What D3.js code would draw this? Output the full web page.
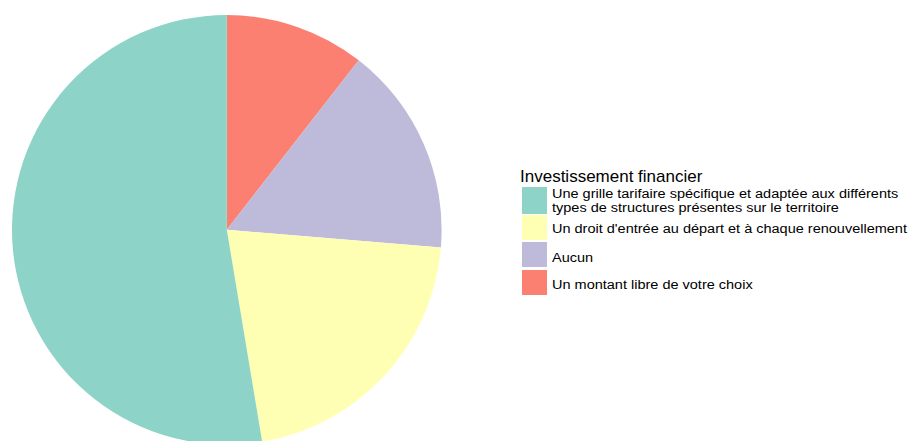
<!DOCTYPE html>
<html>
<head>
<meta charset="utf-8">
<script src="https://cdn.jsdelivr.net/npm/d3@7"></script>
<style>
  html, body { margin: 0; padding: 0; background: #ffffff; }
  svg { display: block; }
  text { font-family: "Liberation Sans", Arial, sans-serif; fill: #000; }
</style>
</head>
<body>
<svg id="chart" width="912" height="441"></svg>
<script>
// Answers to "Investissement financier" (legend order)
const categories = [
  "Une grille tarifaire spécifique et adaptée aux différents\ntypes de structures présentes sur le territoire",
  "Un droit d'entrée au départ et à chaque renouvellement",
  "Aucun",
  "Un montant libre de votre choix"
];
const counts = [10, 4, 3, 2];
const colors = ["#8dd3c7", "#ffffb3", "#bebada", "#fb8072"];
const legendTitle = "Investissement financier";

const svg = d3.select("#chart");

const cx = 226.8, cy = 229.8, radius = 214.8;

const color = d3.scaleOrdinal().domain(categories).range(colors);

// Slices run clockwise from 12 o'clock, last category first
const slices = categories.map((c, i) => ({ cat: c, value: counts[i] })).reverse();
const pie = d3.pie().sort(null).value(d => d.value);
const arc = d3.arc().innerRadius(0).outerRadius(radius);

svg.append("g")
  .attr("transform", `translate(${cx},${cy})`)
  .selectAll("path")
  .data(pie(slices))
  .join("path")
  .attr("d", arc)
  .attr("fill", d => color(d.data.cat));

// Legend
const lg = svg.append("g").attr("transform", "translate(520,0)");
lg.append("text")
  .attr("x", 0).attr("y", 182)
  .style("font-size", "17px")
  .text(legendTitle);

const keyX = 2, keyW = 25, textX = 32;
const rows = [
  { top: 187, h: 27, base: [198, 212.5] },
  { top: 215, h: 25, base: [233] },
  { top: 242, h: 25, base: [262] },
  { top: 270, h: 25, base: [289] }
];

// Labels are set slightly wide, like the original rendering
const labels = lg.append("g").attr("transform", `translate(${textX},0) scale(1.075,1)`);

categories.forEach((c, i) => {
  const r = rows[i];
  lg.append("rect")
    .attr("x", keyX).attr("y", r.top)
    .attr("width", keyW).attr("height", r.h)
    .attr("fill", color(c));
  c.split("\n").forEach((ln, j) => {
    labels.append("text")
      .attr("x", 0).attr("y", r.base[j])
      .style("font-size", "13.5px")
      .text(ln);
  });
});
</script>
</body>
</html>
